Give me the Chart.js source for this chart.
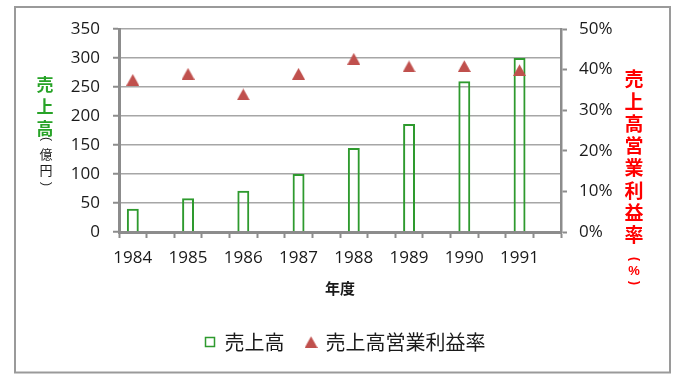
<!DOCTYPE html>
<html>
<head>
<meta charset="utf-8">
<script src="https://cdn.jsdelivr.net/npm/chart.js@4.4.1/dist/chart.umd.min.js"></script>
<style>
html,body{margin:0;padding:0;background:#fff;}
canvas{display:block;}
</style>
</head>
<body>
<canvas id="c" width="685" height="383"></canvas>
<script>
// ---- data ----
const years = ['1984','1985','1986','1987','1988','1989','1990','1991'];
const sales = [40, 58, 71, 100, 145, 186, 260, 300];          // 売上高（億円）
const margin = [37.5, 39.0, 33.9, 39.0, 42.7, 40.8, 40.9, 39.9]; // 売上高営業利益率（%）
const salesTicks = [0, 50, 100, 150, 200, 250, 300, 350];
const marginTicks = [0, 10, 20, 30, 40, 50];
const seriesNames = ['売上高', '売上高営業利益率'];

// each year followed by an empty slot (as in the original sheet)
const labels = [], salesData = [], marginData = [];
years.forEach((y, i) => {
  labels.push(y, '');
  salesData.push(sales[i], null);
  marginData.push(margin[i], null);
});

const GREEN = '#2E9A2E';
const TRI = '#C0504D';
const AXIS = '#8C8C8C';
const GRID = '#A6A6A6';
const TXT = '#1A1A1A';

// triangle marker image (centered on the point)
const tri = document.createElement('canvas');
tri.width = 13; tri.height = 12;
(function(){
  const g = tri.getContext('2d');
  g.fillStyle = TRI;
  g.beginPath();
  g.moveTo(6.5, 0.3); g.lineTo(13, 12); g.lineTo(0, 12); g.closePath();
  g.fill();
})();

const framePlugin = {
  id: 'frame',
  beforeDraw(chart) {
    const ctx = chart.ctx;
    ctx.save();
    ctx.fillStyle = '#fff';
    ctx.fillRect(0, 0, chart.width, chart.height);
    ctx.strokeStyle = '#9A9A9A';
    ctx.lineWidth = 2;
    ctx.strokeRect(15, 7, 655, 365.5);
    ctx.restore();
  }
};

// draw characters stacked vertically; '(' and ')' are rotated into vertical forms
function stack(ctx, chars, x, y0, step, font, color) {
  ctx.font = font; ctx.fillStyle = color;
  ctx.textAlign = 'center'; ctx.textBaseline = 'middle';
  chars.forEach((c, i) => {
    const y = y0 + i * step;
    if (c === '(' || c === ')') {
      ctx.save();
      ctx.translate(x, y);
      ctx.rotate(Math.PI / 2);
      ctx.fillText(c, 0, 0);
      ctx.restore();
    } else {
      ctx.fillText(c, x, y);
    }
  });
}

const titlePlugin = {
  id: 'vtitles',
  afterDraw(chart) {
    const ctx = chart.ctx;
    ctx.save();
    const jp = '"Noto Sans CJK JP", sans-serif';
    const lat = '"Liberation Sans", sans-serif';
    // left axis title
    stack(ctx, ['売','上','高'], 45, 85, 22, 'bold 17px ' + jp, '#27A327');
    stack(ctx, ['('], 46, 139, 0, '12px ' + lat, TXT);
    stack(ctx, ['億','円'], 46, 154, 16, '13px ' + jp, TXT);
    stack(ctx, [')'], 46, 184, 0, '12px ' + lat, TXT);
    // right axis title
    stack(ctx, ['売','上','高','営','業','利','益','率'], 634, 79, 22.3, 'bold 19px ' + jp, '#FF0000');
    stack(ctx, ['('], 634, 259, 0, 'bold 12px ' + lat, '#FF0000');
    stack(ctx, ['%'], 634, 271, 0, 'bold 13px ' + lat, '#FF0000');
    stack(ctx, [')'], 634, 283, 0, 'bold 12px ' + lat, '#FF0000');
    ctx.restore();
  }
};

const tickFont = { family: '"Open Sans", "Liberation Sans", sans-serif', size: 17 };

new Chart(document.getElementById('c'), {
  data: {
    labels: labels,
    datasets: [
      {
        type: 'line',
        label: seriesNames[1],
        data: marginData,
        yAxisID: 'y1',
        showLine: false,
        pointStyle: tri,
        pointRadius: 7,
        pointHoverRadius: 7,
        backgroundColor: TRI,
        borderColor: TRI,
        order: 0
      },
      {
        type: 'bar',
        label: seriesNames[0],
        data: salesData,
        yAxisID: 'y',
        backgroundColor: 'rgba(255,255,255,0)',
        borderColor: GREEN,
        borderWidth: 2,
        categoryPercentage: 0.8,
        barPercentage: 0.54,
        order: 1
      }
    ]
  },
  options: {
    responsive: false,
    animation: false,
    events: [],
    layout: { padding: { top: 29, left: 6, right: 0, bottom: 21 } },
    scales: {
      x: {
        type: 'category',
        offset: true,
        grid: { display: true, drawOnChartArea: false, offset: true, tickLength: 6, tickColor: AXIS, tickWidth: 2 },
        border: { display: true, color: AXIS, width: 3 },
        ticks: {
          autoSkip: false, maxRotation: 0, minRotation: 0,
          padding: 10, color: TXT, font: tickFont,
          callback: (v, i) => labels[i]
        },
        title: {
          display: true, text: '年度', color: TXT,
          font: { family: '"Noto Sans CJK JP", sans-serif', size: 15, weight: 'bold' },
          padding: { top: 0, bottom: 13 }
        },
        afterFit: s => { s.height = 78; }
      },
      y: {
        position: 'left',
        min: 0, max: 350,
        afterBuildTicks: s => { s.ticks = salesTicks.map(v => ({ value: v })); },
        grid: { color: GRID, lineWidth: 1.5, tickLength: 6, tickColor: AXIS, tickWidth: 2 },
        border: { display: true, color: AXIS, width: 3 },
        ticks: { padding: 13, color: TXT, font: tickFont },
        afterFit: s => { s.width = 113; }
      },
      y1: {
        position: 'right',
        min: 0, max: 50,
        afterBuildTicks: s => { s.ticks = marginTicks.map(v => ({ value: v })); },
        grid: { drawOnChartArea: false, tickLength: 6, tickColor: AXIS, tickWidth: 2 },
        border: { display: true, color: AXIS, width: 2.5 },
        ticks: { padding: 12, color: TXT, font: tickFont, callback: v => v + '%' },
        afterFit: s => { s.width = 124; }
      }
    },
    plugins: {
      tooltip: { enabled: false },
      legend: {
        position: 'bottom',
        reverse: true,
        labels: {
          usePointStyle: true,
          boxWidth: 9, boxHeight: 9,
          padding: 22,
          color: TXT,
          font: { family: '"Noto Sans CJK JP", sans-serif', size: 20 },
          generateLabels: chart => {
            const items = Chart.defaults.plugins.legend.labels.generateLabels(chart);
            items.forEach(it => {
              if (it.datasetIndex === 1) {
                it.pointStyle = 'rect';
                it.fillStyle = '#fff';
                it.strokeStyle = GREEN;
                it.lineWidth = 1.5;
              } else {
                it.pointStyle = tri;
              }
            });
            return items;
          }
        }
      }
    }
  },
  plugins: [framePlugin, titlePlugin]
});
</script>
</body>
</html>
